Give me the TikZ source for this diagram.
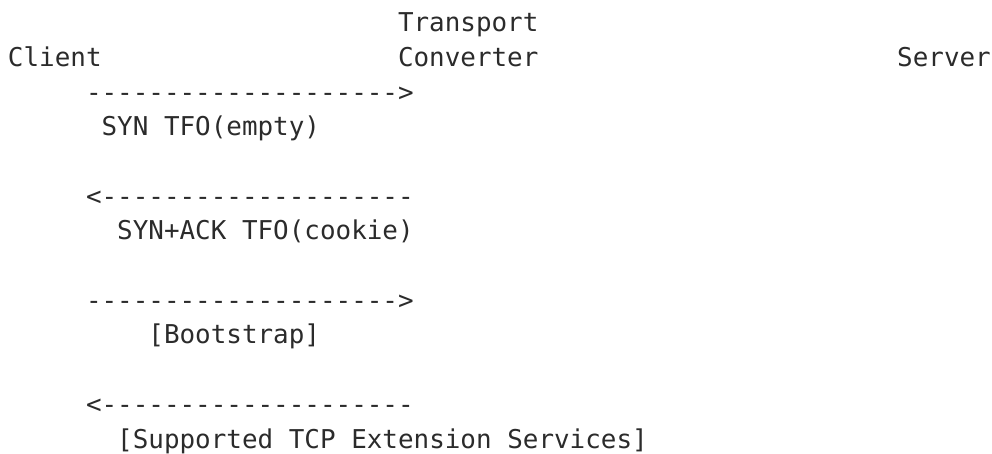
\documentclass[tikz,border=0pt]{standalone}
\usepackage{fontspec}
\setmonofont{DejaVu Sans Mono}[Ligatures=TeXOff]
\usepackage{tikz}
\usetikzlibrary{positioning}
\definecolor{inkgray}{HTML}{2B2B2B}
\tikzset{
    txt/.style={anchor=base west, inner sep=0pt, outer sep=0pt, text=inkgray, font=\ttfamily\fontsize{12.96}{15}\selectfont},
    msgarrow/.style={txt},
    msgtext/.style={txt}
}
% one text column and one text row, in pixels of the reference
\def\pitch{15.6}
\def\lh{34.7}

\begin{document}
\begin{tikzpicture}[x=0.5pt, y=-0.5pt]
    \useasboundingbox (0,0) rectangle (992,454);

    % end points
    \node (tc1) [txt] at (8+25*\pitch, 31.7) {Transport};
    \node (client) [txt] at (8, 31.7+\lh) {Client};
    \node (tc2) [txt] at (8+25*\pitch, 31.7+\lh) {Converter};
    \node (server) [txt] at (8+57*\pitch, 31.7+\lh) {Server};

    % messages
    \node (syn) [msgarrow] at (8+5*\pitch, 31.7+2*\lh) {-------------------->};
    \node (synlbl) [msgtext] at (8+6*\pitch, 31.7+3*\lh) {SYN TFO(empty)};
    \node (synack) [msgarrow] at (8+5*\pitch, 31.7+5*\lh) {<--------------------};
    \node (synacklbl) [msgtext] at (8+7*\pitch, 31.7+6*\lh) {SYN+ACK TFO(cookie)};
    \node (boot) [msgarrow] at (8+5*\pitch, 31.7+8*\lh) {-------------------->};
    \node (bootlbl) [msgtext] at (8+9*\pitch, 31.7+9*\lh) {[Bootstrap]};
    \node (ext) [msgarrow] at (8+5*\pitch, 31.7+11*\lh) {<--------------------};
    \node (extlbl) [msgtext] at (8+7*\pitch, 31.7+12*\lh) {[Supported TCP Extension Services]};
\end{tikzpicture}
\end{document}
